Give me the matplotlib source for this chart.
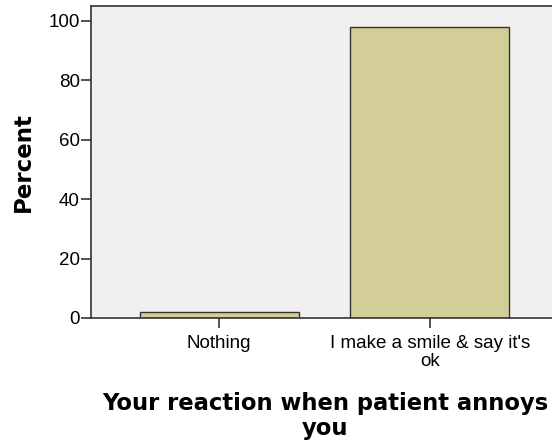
import matplotlib
matplotlib.use("Agg")
import matplotlib.pyplot as plt

categories = ["Nothing", "I make a smile & say it's\nok"]
percent = [2.0, 98.0]
yticks = [0, 20, 40, 60, 80, 100]

plt.rcParams['font.family'] = ['Liberation Sans', 'DejaVu Sans']

fig = plt.figure(figsize=(5.52, 4.45), dpi=100)
ax = fig.add_axes([91/552, (445-318)/445, (558-91)/552, (318-6)/445])
ax.set_facecolor('#f0f0f0')

x = list(range(len(categories)))
ax.bar(x, percent, width=0.754, color='#d3ce97', edgecolor='#333333', linewidth=1.0, zorder=2)

ax.set_xlim(-0.607, 1.607)
ax.set_ylim(0, 105.05)
ax.set_yticks(yticks)
ax.set_xticks(x)
ax.set_xticklabels(categories, fontsize=13.5, linespacing=1.1)
ax.tick_params(axis='y', labelsize=13.5, length=7, width=1.2, color='#333333', pad=1)
ax.tick_params(axis='x', length=7, width=1.2, color='#333333', pad=5)
for s in ax.spines.values():
    s.set_color('#333333')
    s.set_linewidth(1.2)

ax.set_ylabel('Percent', fontsize=16.5, fontweight='bold', family='DejaVu Sans', labelpad=10)
fig.text(325/552, 1 - 416/445, 'Your reaction when patient annoys\nyou', ha='center', va='center',
         fontsize=16.3, fontweight='bold', family='DejaVu Sans', linespacing=1.1)

fig.savefig('out.png', dpi=100)
